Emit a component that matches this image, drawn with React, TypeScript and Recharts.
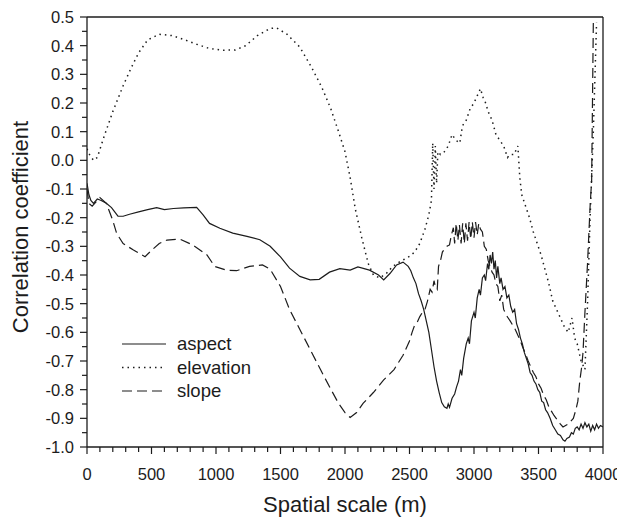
import React from 'react';
import { LineChart, Line, XAxis, YAxis, ReferenceLine } from 'recharts';

// [spatial scale (m), correlation coefficient]
const aspect: [number, number][] = [
  [0, -0.08], [15, -0.12], [30, -0.14], [50, -0.15], [80, -0.135], [110, -0.14], [150, -0.15],
  [190, -0.165], [240, -0.195], [280, -0.195], [330, -0.188], [400, -0.18], [470, -0.172],
  [540, -0.165], [600, -0.172], [670, -0.168], [750, -0.166], [850, -0.164], [900, -0.19],
  [950, -0.22], [1030, -0.237], [1130, -0.254], [1240, -0.265], [1340, -0.277], [1420, -0.3],
  [1500, -0.337], [1570, -0.376], [1650, -0.405], [1730, -0.417], [1800, -0.415], [1880, -0.39],
  [1960, -0.378], [2040, -0.383], [2100, -0.372], [2190, -0.383], [2260, -0.4], [2300, -0.417],
  [2350, -0.394], [2400, -0.365], [2450, -0.355], [2490, -0.37], [2510, -0.385], [2530, -0.41],
  [2550, -0.43], [2570, -0.465], [2590, -0.49], [2610, -0.52], [2630, -0.56], [2650, -0.6],
  [2670, -0.66], [2690, -0.72], [2710, -0.77], [2730, -0.81], [2750, -0.845], [2770, -0.86],
  [2790, -0.865], [2800, -0.85], [2810, -0.862], [2830, -0.83], [2850, -0.815], [2865, -0.79],
  [2880, -0.77], [2895, -0.73], [2905, -0.75], [2920, -0.69], [2940, -0.64], [2955, -0.62],
  [2965, -0.64], [2980, -0.56], [3000, -0.53], [3010, -0.55], [3025, -0.48], [3040, -0.45],
  [3050, -0.47], [3065, -0.41], [3080, -0.4], [3090, -0.42], [3105, -0.36], [3115, -0.38],
  [3125, -0.33], [3135, -0.36], [3145, -0.32], [3155, -0.38], [3165, -0.35], [3175, -0.41],
  [3185, -0.37], [3200, -0.43], [3210, -0.41], [3225, -0.45], [3240, -0.44], [3255, -0.48],
  [3270, -0.47], [3285, -0.51], [3300, -0.53], [3315, -0.52], [3330, -0.57], [3345, -0.59],
  [3360, -0.62], [3375, -0.64], [3390, -0.67], [3405, -0.69], [3420, -0.71], [3435, -0.74],
  [3450, -0.75], [3465, -0.77], [3480, -0.78], [3495, -0.8], [3510, -0.81], [3525, -0.84],
  [3540, -0.845], [3555, -0.87], [3570, -0.88], [3590, -0.9], [3610, -0.925], [3630, -0.94],
  [3650, -0.955], [3670, -0.96], [3690, -0.975], [3705, -0.98], [3720, -0.97], [3740, -0.965],
  [3755, -0.95], [3770, -0.955], [3785, -0.935], [3800, -0.93], [3815, -0.94], [3830, -0.92],
  [3845, -0.935], [3860, -0.915], [3875, -0.93], [3890, -0.92], [3905, -0.945], [3920, -0.925],
  [3935, -0.94], [3950, -0.92], [3965, -0.935], [3980, -0.925], [4000, -0.93],
];

const elevation: [number, number][] = [
  [0, 0.04], [20, 0.02], [50, 0.0], [80, 0.01], [130, 0.08], [200, 0.17], [280, 0.26],
  [340, 0.32], [400, 0.375], [470, 0.42], [560, 0.44], [660, 0.435], [760, 0.42], [850, 0.405],
  [950, 0.39], [1050, 0.384], [1150, 0.385], [1230, 0.4], [1320, 0.435], [1420, 0.46],
  [1470, 0.462], [1550, 0.44], [1650, 0.395], [1740, 0.325], [1820, 0.255], [1890, 0.18],
  [1950, 0.1], [2000, 0.03], [2040, -0.06], [2080, -0.17], [2130, -0.27], [2180, -0.36],
  [2220, -0.4], [2270, -0.41], [2320, -0.395], [2370, -0.37], [2420, -0.355], [2460, -0.345],
  [2500, -0.335], [2540, -0.32], [2580, -0.29], [2620, -0.24], [2650, -0.19], [2670, -0.14],
  [2680, 0.06], [2690, -0.1], [2700, 0.05], [2710, -0.08], [2720, 0.03], [2740, 0.02],
  [2770, 0.03], [2800, 0.05], [2830, 0.09], [2860, 0.07], [2890, 0.06], [2910, 0.12],
  [2940, 0.14], [2970, 0.18], [3000, 0.2], [3030, 0.23], [3050, 0.25], [3070, 0.22],
  [3090, 0.2], [3110, 0.17], [3140, 0.14], [3170, 0.09], [3200, 0.07], [3230, 0.05],
  [3260, 0.01], [3280, 0.02], [3310, 0.02], [3340, 0.05], [3355, -0.06], [3370, -0.12],
  [3400, -0.16], [3430, -0.2], [3460, -0.25], [3490, -0.29], [3520, -0.33], [3550, -0.38],
  [3580, -0.43], [3610, -0.49], [3640, -0.52], [3670, -0.55], [3700, -0.58], [3730, -0.6],
  [3760, -0.55], [3780, -0.62], [3800, -0.64], [3830, -0.7], [3860, -0.73], [3880, -0.5],
  [3900, -0.2], [3925, 0.1], [3950, 0.48],
];

const slope: [number, number][] = [
  [0, -0.1], [15, -0.15], [40, -0.16], [60, -0.15], [100, -0.13], [150, -0.15], [200, -0.21],
  [230, -0.255], [280, -0.29], [360, -0.313], [450, -0.336], [510, -0.31], [560, -0.29],
  [620, -0.278], [720, -0.275], [820, -0.295], [930, -0.33], [990, -0.37], [1080, -0.383],
  [1160, -0.385], [1260, -0.37], [1360, -0.365], [1420, -0.38], [1500, -0.44], [1570, -0.52],
  [1650, -0.59], [1730, -0.66], [1810, -0.73], [1880, -0.79], [1950, -0.848], [2000, -0.88],
  [2040, -0.897], [2090, -0.88], [2140, -0.848], [2220, -0.81], [2300, -0.766], [2380, -0.73],
  [2450, -0.68], [2480, -0.65], [2500, -0.63], [2520, -0.6], [2540, -0.575], [2560, -0.565],
  [2580, -0.545], [2600, -0.53], [2620, -0.52], [2640, -0.49], [2660, -0.45], [2675, -0.46],
  [2690, -0.42], [2700, -0.44], [2715, -0.45], [2725, -0.37], [2740, -0.35], [2755, -0.32],
  [2770, -0.31], [2790, -0.3], [2810, -0.295], [2825, -0.26], [2840, -0.235], [2850, -0.29],
  [2862, -0.22], [2875, -0.28], [2887, -0.225], [2900, -0.29], [2912, -0.22], [2925, -0.29],
  [2937, -0.22], [2950, -0.28], [2962, -0.215], [2975, -0.275], [2987, -0.215], [3000, -0.27],
  [3012, -0.215], [3025, -0.26], [3037, -0.22], [3050, -0.24], [3065, -0.25], [3080, -0.3],
  [3095, -0.31], [3110, -0.35], [3125, -0.37], [3140, -0.39], [3155, -0.4], [3170, -0.43],
  [3185, -0.44], [3200, -0.49], [3215, -0.47], [3230, -0.52], [3250, -0.54], [3265, -0.55],
  [3280, -0.56], [3300, -0.575], [3320, -0.59], [3340, -0.61], [3360, -0.63], [3380, -0.655],
  [3400, -0.675], [3420, -0.7], [3440, -0.72], [3460, -0.74], [3480, -0.755], [3500, -0.78],
  [3520, -0.795], [3540, -0.82], [3560, -0.835], [3580, -0.86], [3600, -0.875], [3620, -0.89],
  [3645, -0.905], [3670, -0.92], [3690, -0.93], [3710, -0.925], [3730, -0.92], [3750, -0.91],
  [3770, -0.9], [3790, -0.87], [3805, -0.84], [3820, -0.77], [3835, -0.72], [3845, -0.67],
  [3860, -0.53], [3880, -0.36], [3900, -0.16], [3912, -0.07], [3925, 0.48],
];

const xTicks = [
  0, 100, 200, 300, 400, 500, 600, 700, 800, 900, 1000, 1100, 1200, 1300, 1400, 1500, 1600,
  1700, 1800, 1900, 2000, 2100, 2200, 2300, 2400, 2500, 2600, 2700, 2800, 2900, 3000, 3100,
  3200, 3300, 3400, 3500, 3600, 3700, 3800, 3900, 4000,
];

const yTicks = [
  -1.0, -0.95, -0.9, -0.85, -0.8, -0.75, -0.7, -0.65, -0.6, -0.55, -0.5, -0.45, -0.4, -0.35,
  -0.3, -0.25, -0.2, -0.15, -0.1, -0.05, 0.0, 0.05, 0.1, 0.15, 0.2, 0.25, 0.3, 0.35, 0.4,
  0.45, 0.5,
];

const seriesNames = ['aspect', 'elevation', 'slope'];

const toRows = (pts: [number, number][]) => pts.map(([scale, r]) => ({ scale, r }));

const INK = '#1c1c1c';
const FONT = '"Liberation Sans", Arial, Helvetica, sans-serif';
const DOTTED = '1.5 4';
const DASHED = '10 5';

const XTick = (props: any) => {
  const { x, y, payload } = props;
  const major = payload.value % 500 === 0;
  return (
    <g>
      <line x1={x} x2={x} y1={y} y2={y + (major ? 7 : 5)} stroke={INK} strokeWidth={1.2} />
      {major && (
        <text x={x} y={y + 33} textAnchor="middle" fontFamily={FONT} fontSize={16.5} fill={INK}>
          {payload.value}
        </text>
      )}
    </g>
  );
};

const YTick = (props: any) => {
  const { x, y, payload } = props;
  const major = Math.round(payload.value * 100) % 10 === 0;
  return (
    <g>
      <line x1={x - (major ? 7 : 5)} x2={x} y1={y} y2={y} stroke={INK} strokeWidth={1.2} />
      {major && (
        <text x={x - 13} y={y + 6} textAnchor="end" fontFamily={FONT} fontSize={16.5} fill={INK}>
          {payload.value.toFixed(1)}
        </text>
      )}
    </g>
  );
};

const legendStyles = [undefined, DOTTED, DASHED];

const App: React.FC = () => {
  return (
    <div style={{ position: 'relative', width: 617, height: 512 }}>
      <LineChart width={617} height={512} margin={{ top: 9, right: 22, bottom: 13, left: 0 }}>
        <XAxis
          dataKey="scale"
          type="number"
          domain={[0, 4000]}
          ticks={xTicks}
          interval={0}
          tickSize={0}
          tickMargin={0}
          tickLine={false}
          tick={<XTick />}
          height={60}
          axisLine={{ stroke: INK, strokeWidth: 1.3 }}
          allowDataOverflow
          label={(p: any) => (
            <text
              x={p.viewBox.x + p.viewBox.width / 2}
              y={504}
              textAnchor="middle"
              fontFamily={FONT}
              fontSize={22}
              fill={INK}
            >
              Spatial scale (m)
            </text>
          )}
        />
        <YAxis
          type="number"
          domain={[-1, 0.5]}
          ticks={yTicks}
          interval={0}
          tickSize={0}
          tickMargin={0}
          tickLine={false}
          tick={<YTick />}
          width={79}
          axisLine={{ stroke: INK, strokeWidth: 1.3 }}
          allowDataOverflow
          label={() => (
            <text
              transform="translate(20, 219) rotate(-90)"
              textAnchor="middle"
              fontFamily={FONT}
              fontSize={22}
              fill={INK}
            >
              Correlation coefficient
            </text>
          )}
        />
        <ReferenceLine y={0.5} stroke={INK} strokeWidth={1.3} />
        <ReferenceLine x={4000} stroke={INK} strokeWidth={1.3} />
        <Line
          data={toRows(aspect)}
          dataKey="r"
          name={seriesNames[0]}
          stroke={INK}
          strokeWidth={1.2}
          dot={false}
          isAnimationActive={false}
        />
        <Line
          data={toRows(elevation)}
          dataKey="r"
          name={seriesNames[1]}
          stroke={INK}
          strokeWidth={1.5}
          strokeDasharray={DOTTED}
          dot={false}
          isAnimationActive={false}
        />
        <Line
          data={toRows(slope)}
          dataKey="r"
          name={seriesNames[2]}
          stroke={INK}
          strokeWidth={1.2}
          strokeDasharray={DASHED}
          dot={false}
          isAnimationActive={false}
        />
      </LineChart>
      <svg
        width={200}
        height={80}
        style={{ position: 'absolute', left: 114, top: 326 }}
      >
        {seriesNames.map((name, i) => (
          <g key={name}>
            <line
              x1={0}
              x2={44}
              y1={10 + i * 23.5}
              y2={10 + i * 23.5}
              stroke={INK}
              strokeWidth={i === 1 ? 1.5 : 1.2}
              strokeDasharray={legendStyles[i]}
            />
            <text x={55} y={16 + i * 23.5} fontFamily={FONT} fontSize={18.5} fill={INK}>
              {name}
            </text>
          </g>
        ))}
      </svg>
    </div>
  );
};

export default App;
